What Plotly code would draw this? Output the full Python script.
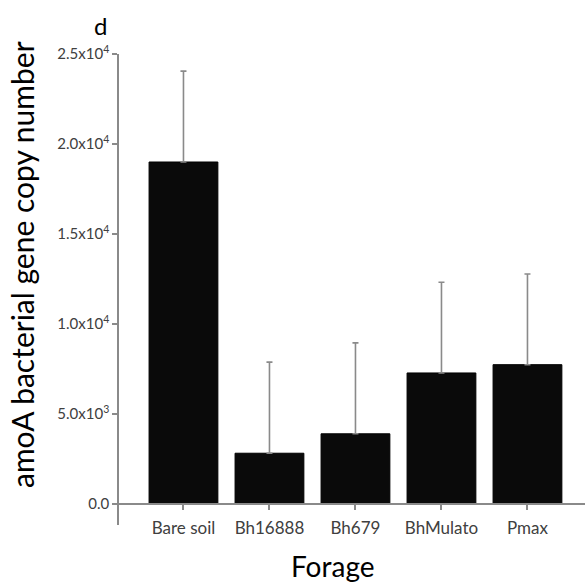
import plotly.graph_objects as go

categories = ["Bare soil", "Bh16888", "Bh679", "BhMulato", "Pmax"]
means = [19000, 2820, 3900, 7280, 7740]
errors = [5050, 5060, 5050, 5040, 5040]
ytick_vals = [0, 5000, 10000, 15000, 20000, 25000]
ytick_text = ["0.0", "5.0x10<sup>3</sup>", "1.0x10<sup>4</sup>", "1.5x10<sup>4</sup>",
              "2.0x10<sup>4</sup>", "2.5x10<sup>4</sup>"]

FONT = "Lato, Open Sans, sans-serif"

fig = go.Figure()
fig.add_trace(go.Bar(
    x=list(range(len(categories))), y=means,
    width=0.8,
    marker=dict(color="#0a0a0a", line=dict(color="#000000", width=1)),
    error_y=dict(type="data", array=errors, arrayminus=[0]*len(errors), symmetric=False,
                 color="#8a8a8a", thickness=1.6, width=3),
    showlegend=False,
    hoverinfo="skip",
))

fig.update_layout(
    width=586, height=584,
    margin=dict(l=112, r=1, t=54, b=59, autoexpand=False),
    paper_bgcolor="white", plot_bgcolor="white",
    font=dict(family=FONT, color="#404040"),
    xaxis=dict(
        domain=[0, 1], automargin=False,
        range=[-0.831, 4.669],
        tickvals=list(range(len(categories))), ticktext=categories,
        anchor="free", position=21/471,
        showline=True, linecolor="#8a8a8a", linewidth=1.5,
        ticks="outside", ticklen=5, tickcolor="#8a8a8a", tickwidth=1.5,
        ticklabelstandoff=4,
        tickfont=dict(size=17, color="#404040", family=FONT),
        showgrid=False, zeroline=False,
    ),
    yaxis=dict(
        range=[-1167, 25000], automargin=False,
        anchor="free", position=6/473,
        tickvals=ytick_vals, ticktext=ytick_text,
        showline=True, linecolor="#8a8a8a", linewidth=1.5,
        ticks="outside", ticklen=5, tickcolor="#8a8a8a", tickwidth=1.5,
        tickfont=dict(size=15, color="#404040", family=FONT),
        showgrid=False, zeroline=False,
    ),
    annotations=[
        dict(text="amoA bacterial gene copy number", xref="paper", yref="paper",
             x=(22-112)/473, y=(525-265)/471, xanchor="center", yanchor="middle", textangle=-90,
             showarrow=False, font=dict(size=30, color="#000000", family=FONT)),
        dict(text="Forage", xref="paper", yref="paper",
             x=(333-112)/473, y=-(566-525)/471, xanchor="center", yanchor="middle",
             showarrow=False, font=dict(size=28, color="#000000", family=FONT)),
        dict(text="d", xref="paper", yref="paper",
             x=(100-112)/473, y=1+(54-25)/471, xanchor="center", yanchor="middle",
             showarrow=False, font=dict(size=24, color="#000000", family=FONT)),
    ],
)

fig.write_html("out.html", config={"displayModeBar": False},
               post_script="document.body.style.margin='0';document.body.style.overflow='hidden';")
